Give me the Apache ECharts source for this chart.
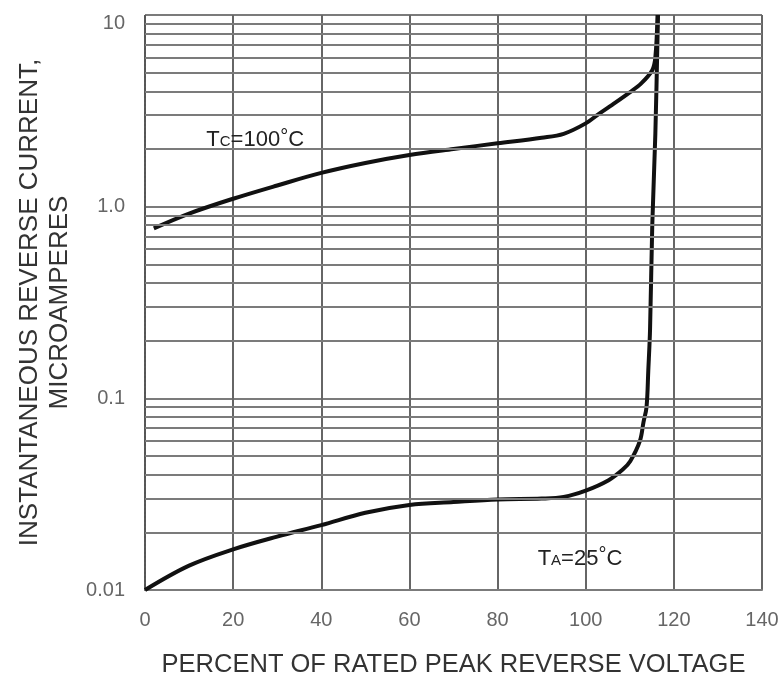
<!DOCTYPE html>
<html>
<head>
<meta charset="utf-8">
<script src="https://cdn.jsdelivr.net/npm/echarts@6/dist/echarts.min.js"></script>
<style>
html,body{margin:0;padding:0;background:#fff;}
#chart{width:778px;height:678px;}
</style>
</head>
<body>
<div id="chart"></div>
<script>
// ---- data ----
var xTicks = [0, 20, 40, 60, 80, 100, 120, 140];
var yTickValues = [0.01, 0.1, 1, 10];
var yTickLabels = ['0.01', '0.1', '1.0', '10'];
var minorGridValues = [0.02,0.03,0.04,0.05,0.06,0.07,0.08,0.09,
                       0.2,0.3,0.4,0.5,0.6,0.7,0.8,0.9,
                       2,3,4,5,6,7,8,9];

// Tc = 100°C curve
var tcX = [2, 10, 20, 30, 40, 50, 60, 70, 80, 90, 95, 100, 103, 106, 110, 112.6, 115.1, 115.8, 116.3];
var tcY = [0.77, 0.92, 1.1, 1.29, 1.5, 1.69, 1.86, 2.0, 2.14, 2.29, 2.4, 2.72, 3.05, 3.4, 3.95, 4.4, 5.15, 6.0, 10];

// TA = 25°C curve
var taX = [0, 10, 20, 30, 40, 50, 60, 70, 80, 90, 95, 100, 105.2, 108.4, 110.1, 112.3, 113.1, 113.8, 114.2, 114.6, 115.1, 115.8, 116.4];
var taY = [0.01, 0.0134, 0.0163, 0.019, 0.0218, 0.0253, 0.0278, 0.0288, 0.0297, 0.030, 0.0306, 0.033, 0.0374, 0.0425, 0.047, 0.06, 0.075, 0.09, 0.14, 0.23, 0.8, 2.4, 10];

// annotation anchors (data coordinates)
var tcLabelPos = [25, 2.25];
var taLabelPos = [98.7, 0.0147];

function zip(xs, ys) { return xs.map(function (x, i) { return [x, ys[i]]; }); }

var gridColor = '#7b7b7b';
var FONT = 'Liberation Sans';
var chart = echarts.init(document.getElementById('chart'), null, {renderer: 'canvas'});

var richLabel = {
  t: {fontSize: 22, fontFamily: FONT, color: '#222', verticalAlign: 'bottom', lineHeight: 24},
  sub: {fontSize: 15, fontFamily: FONT, color: '#222', verticalAlign: 'bottom', lineHeight: 24, padding: [0, 0, 2, 0]},
  sup: {fontSize: 20, fontFamily: FONT, color: '#222', verticalAlign: 'top', lineHeight: 24}
};

var option = {
  animation: false,
  backgroundColor: '#fff',
  grid: {left: 145, right: 16, top: 15, bottom: 88, show: false, containLabel: false, outerBoundsMode: 'none'},
  xAxis: {
    type: 'value',
    min: 0, max: 140, interval: 20,
    name: 'PERCENT OF RATED PEAK REVERSE VOLTAGE',
    nameLocation: 'middle',
    nameGap: 62,
    nameTextStyle: {fontSize: 25.5, fontFamily: FONT, color: '#333'},
    axisLine: {show: true, lineStyle: {color: gridColor, width: 2}},
    axisTick: {show: false},
    axisLabel: {
      margin: 20, fontSize: 20, fontFamily: FONT, color: '#666',
      formatter: function (v) { return xTicks.indexOf(v) >= 0 ? String(v) : ''; }
    },
    splitLine: {show: true, lineStyle: {color: '#666', width: 2}}
  },
  yAxis: {
    type: 'log',
    logBase: 10,
    min: 0.01, max: 10,
    name: 'INSTANTANEOUS REVERSE CURRENT,\nMICROAMPERES',
    nameLocation: 'middle',
    nameRotate: 90,
    nameGap: 69,
    nameTextStyle: {fontSize: 26, fontFamily: FONT, color: '#333', lineHeight: 30, align: 'center'},
    axisLine: {show: true, lineStyle: {color: '#555', width: 2, type: 'dotted'}},
    axisTick: {show: false},
    axisLabel: {
      margin: 20, fontSize: 20, fontFamily: FONT, color: '#666',
      formatter: function (v) {
        for (var i = 0; i < yTickValues.length; i++) {
          if (Math.abs(Math.log10(v) - Math.log10(yTickValues[i])) < 1e-6) {
            return i === yTickValues.length - 1 ? '{top|' + yTickLabels[i] + '}' : yTickLabels[i];
          }
        }
        return '';
      },
      rich: {
        top: {fontSize: 20, fontFamily: FONT, color: '#666', padding: [16, 0, 0, 0]}
      }
    },
    splitLine: {show: true, lineStyle: {color: gridColor, width: 2}}
  },
  series: [
    {
      type: 'line',
      name: 'minor grid',
      data: [],
      z: 1,
      silent: true,
      markLine: {
        silent: true,
        symbol: ['none', 'none'],
        label: {show: false},
        lineStyle: {color: gridColor, width: 2, type: 'solid'},
        emphasis: {disabled: true},
        data: minorGridValues.map(function (v) { return {yAxis: v}; })
      }
    },
    {
      type: 'line',
      name: 'Tc=100°C',
      data: zip(tcX, tcY),
      smooth: 0.35,
      showSymbol: false,
      z: 3,
      lineStyle: {color: '#111', width: 4},
      markPoint: {
        symbol: 'circle', symbolSize: 0,
        silent: true,
        label: {
          show: true, position: 'inside',
          formatter: '{t|T}{sub|C}{t|=100}{sup|°}{t|C}',
          rich: richLabel
        },
        data: [{coord: tcLabelPos}]
      }
    },
    {
      type: 'line',
      name: 'TA=25°C',
      data: zip(taX, taY),
      smooth: 0.35,
      showSymbol: false,
      z: 3,
      lineStyle: {color: '#111', width: 4},
      markPoint: {
        symbol: 'circle', symbolSize: 0,
        silent: true,
        label: {
          show: true, position: 'inside',
          formatter: '{t|T}{sub|A}{t|=25}{sup|°}{t|C}',
          rich: richLabel
        },
        data: [{coord: taLabelPos}]
      }
    }
  ]
};
chart.setOption(option);
</script>
</body>
</html>
